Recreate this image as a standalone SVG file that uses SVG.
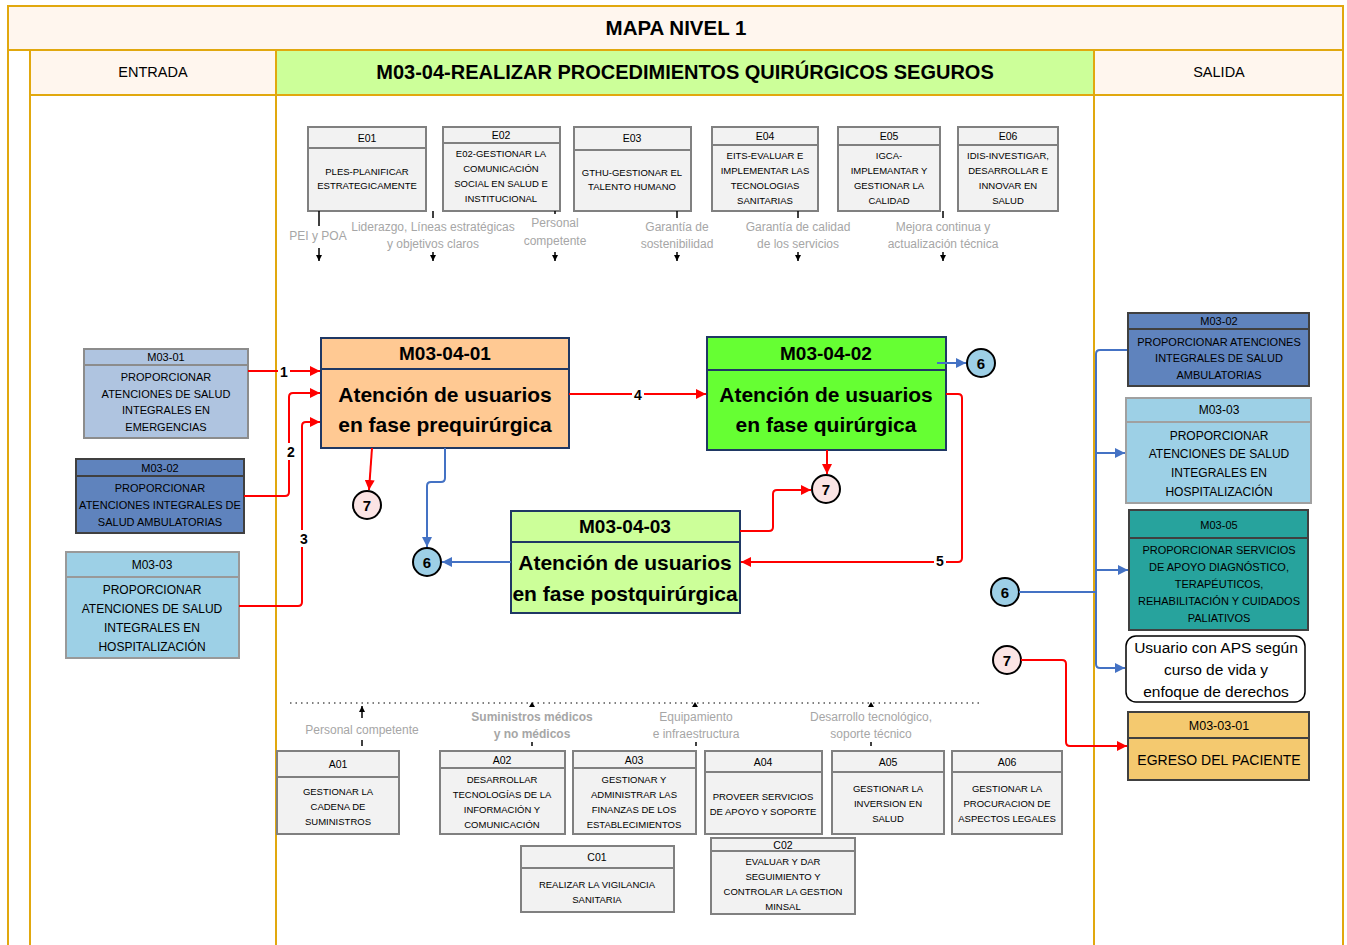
<svg xmlns="http://www.w3.org/2000/svg" width="1347" height="945" viewBox="0 0 1347 945">
<style>
text{font-family:"Liberation Sans",Arial,sans-serif;fill:#000;text-anchor:middle}
.frame{fill:none;stroke:#E1A80E;stroke-width:2}
.gbox{fill:#F2F2F2;stroke:#808080;stroke-width:2}
.gl{stroke:#808080;stroke-width:2}
.sm{font-size:9.5px}
.hd{font-size:10.5px}
.lab{font-size:12px;fill:#A6A6A6}
.labb{font-size:12px;fill:#A6A6A6;font-weight:bold}
.red{fill:none;stroke:#FF0000;stroke-width:2;stroke-linejoin:round}
.blue{fill:none;stroke:#4472C4;stroke-width:2;stroke-linejoin:round}
.num{font-size:14px;font-weight:bold}
.c7{fill:#FBE4E4;stroke:#000;stroke-width:2}
.c6{fill:#9DCFE6;stroke:#000;stroke-width:2}
.cn{font-size:15px;font-weight:bold}
.nodeS{stroke:#1F3864;stroke-width:2}
.nh{font-size:19px;font-weight:bold}
.nb{font-size:21px;font-weight:bold}
.bt{font-size:11px}
.bt12{font-size:12px}
.tick{stroke:#000;stroke-width:1.5}
</style>
<defs>
<marker id="ar" viewBox="0 0 10 10" refX="10" refY="5" markerWidth="5" markerHeight="5" orient="auto"><path d="M0,0 L10,5 L0,10 z" fill="#FF0000"/></marker>
<marker id="ab" viewBox="0 0 10 10" refX="10" refY="5" markerWidth="5" markerHeight="5" orient="auto"><path d="M0,0 L10,5 L0,10 z" fill="#4472C4"/></marker>
<marker id="ak" viewBox="0 0 10 10" refX="10" refY="5" markerWidth="6" markerHeight="6" orient="auto" markerUnits="userSpaceOnUse"><path d="M0,0 L10,5 L0,10 z" fill="#000"/></marker>
</defs>

<!-- frame -->
<g id="frame">
<rect x="8" y="6" width="1335" height="44" fill="#FFF6EE"/>
<rect x="30" y="50" width="246" height="45" fill="#FFF6EE"/>
<rect x="276" y="50" width="818" height="45" fill="#CCFF99"/>
<rect x="1094" y="50" width="249" height="45" fill="#FFF6EE"/>
<rect x="8" y="6" width="1335" height="950" class="frame"/>
<line x1="8" y1="50" x2="1343" y2="50" class="frame"/>
<line x1="30" y1="95" x2="1343" y2="95" class="frame"/>
<line x1="30" y1="50" x2="30" y2="945" class="frame"/>
<line x1="276" y1="50" x2="276" y2="945" class="frame"/>
<line x1="1094" y1="50" x2="1094" y2="945" class="frame"/>
<text x="676" y="35" style="font-size:20.5px;font-weight:bold">MAPA NIVEL 1</text>
<text x="153" y="77" style="font-size:14.5px">ENTRADA</text>
<text x="685" y="79" style="font-size:20px;font-weight:bold">M03-04-REALIZAR PROCEDIMIENTOS QUIRÚRGICOS SEGUROS</text>
<text x="1219" y="77" style="font-size:14.5px">SALIDA</text>
</g>

<!-- E boxes -->
<g id="E01">
<rect x="308" y="127" width="118" height="84" class="gbox"/><line x1="308" y1="148" x2="426" y2="148" class="gl"/>
<text x="367" y="142" class="hd">E01</text>
<text x="367" y="175" class="sm">PLES-PLANIFICAR</text><text x="367" y="189" class="sm">ESTRATEGICAMENTE</text>
</g>
<g id="E02">
<rect x="443" y="127" width="117" height="84" class="gbox"/><line x1="443" y1="143" x2="560" y2="143" class="gl"/>
<text x="501" y="139" class="hd">E02</text>
<text x="501" y="157" class="sm">E02-GESTIONAR LA</text><text x="501" y="172" class="sm">COMUNICACIÓN</text><text x="501" y="187" class="sm">SOCIAL EN SALUD E</text><text x="501" y="202" class="sm">INSTITUCIONAL</text>
</g>
<g id="E03">
<rect x="574" y="127" width="117" height="84" class="gbox"/><line x1="574" y1="150" x2="691" y2="150" class="gl"/>
<text x="632" y="142" class="hd">E03</text>
<text x="632" y="176" class="sm">GTHU-GESTIONAR EL</text><text x="632" y="190" class="sm">TALENTO HUMANO</text>
</g>
<g id="E04">
<rect x="712" y="127" width="106" height="84" class="gbox"/><line x1="712" y1="145" x2="818" y2="145" class="gl"/>
<text x="765" y="140" class="hd">E04</text>
<text x="765" y="159" class="sm">EITS-EVALUAR E</text><text x="765" y="174" class="sm">IMPLEMENTAR LAS</text><text x="765" y="189" class="sm">TECNOLOGIAS</text><text x="765" y="204" class="sm">SANITARIAS</text>
</g>
<g id="E05">
<rect x="838" y="127" width="102" height="84" class="gbox"/><line x1="838" y1="145" x2="940" y2="145" class="gl"/>
<text x="889" y="140" class="hd">E05</text>
<text x="889" y="159" class="sm">IGCA-</text><text x="889" y="174" class="sm">IMPLEMANTAR Y</text><text x="889" y="189" class="sm">GESTIONAR LA</text><text x="889" y="204" class="sm">CALIDAD</text>
</g>
<g id="E06">
<rect x="958" y="127" width="100" height="84" class="gbox"/><line x1="958" y1="145" x2="1058" y2="145" class="gl"/>
<text x="1008" y="140" class="hd">E06</text>
<text x="1008" y="159" class="sm">IDIS-INVESTIGAR,</text><text x="1008" y="174" class="sm">DESARROLLAR E</text><text x="1008" y="189" class="sm">INNOVAR EN</text><text x="1008" y="204" class="sm">SALUD</text>
</g>

<!-- strategic flows -->
<g id="strategic-labels">
<line x1="319" y1="211" x2="319" y2="226" class="tick"/>
<line x1="433" y1="211" x2="433" y2="218" class="tick"/>
<line x1="555" y1="211" x2="555" y2="214" class="tick"/>
<line x1="677" y1="211" x2="677" y2="218" class="tick"/>
<line x1="798" y1="211" x2="798" y2="218" class="tick"/>
<line x1="943" y1="211" x2="943" y2="218" class="tick"/>
<text x="318" y="240" class="lab">PEI y POA</text>
<text x="433" y="231" class="lab">Liderazgo, Líneas estratégicas</text><text x="433" y="248" class="lab">y objetivos claros</text>
<text x="555" y="227" class="lab">Personal</text><text x="555" y="245" class="lab">competente</text>
<text x="677" y="231" class="lab">Garantía de</text><text x="677" y="248" class="lab">sostenibilidad</text>
<text x="798" y="231" class="lab">Garantía de calidad</text><text x="798" y="248" class="lab">de los servicios</text>
<text x="943" y="231" class="lab">Mejora continua y</text><text x="943" y="248" class="lab">actualización técnica</text>
<line x1="319" y1="248" x2="319" y2="261" class="tick" marker-end="url(#ak)"/>
<line x1="433" y1="252" x2="433" y2="261" class="tick" marker-end="url(#ak)"/>
<line x1="555" y1="252" x2="555" y2="261" class="tick" marker-end="url(#ak)"/>
<line x1="677" y1="252" x2="677" y2="261" class="tick" marker-end="url(#ak)"/>
<line x1="798" y1="252" x2="798" y2="261" class="tick" marker-end="url(#ak)"/>
<line x1="943" y1="252" x2="943" y2="261" class="tick" marker-end="url(#ak)"/>
</g>

<!-- left inputs -->
<g id="in-M03-01">
<rect x="84" y="349" width="164" height="89" fill="#AFC4E0" stroke="#8C8C8C" stroke-width="2"/><line x1="84" y1="365" x2="248" y2="365" stroke="#8C8C8C" stroke-width="2"/>
<text x="166" y="361" class="bt">M03-01</text>
<text x="166" y="381" class="bt">PROPORCIONAR</text><text x="166" y="398" class="bt">ATENCIONES DE SALUD</text><text x="166" y="414" class="bt">INTEGRALES EN</text><text x="166" y="431" class="bt">EMERGENCIAS</text>
</g>
<g id="in-M03-02">
<rect x="76" y="459" width="168" height="74" fill="#5F83BD" stroke="#404040" stroke-width="2"/><line x1="76" y1="476" x2="244" y2="476" stroke="#404040" stroke-width="2"/>
<text x="160" y="472" class="bt">M03-02</text>
<text x="160" y="492" class="bt">PROPORCIONAR</text><text x="160" y="509" class="bt">ATENCIONES INTEGRALES DE</text><text x="160" y="526" class="bt">SALUD AMBULATORIAS</text>
</g>
<g id="in-M03-03">
<rect x="66" y="552" width="173" height="106" fill="#9DD0E6" stroke="#999" stroke-width="2"/><line x1="66" y1="577" x2="239" y2="577" stroke="#999" stroke-width="2"/>
<text x="152" y="569" class="bt12">M03-03</text>
<text x="152" y="594" class="bt12">PROPORCIONAR</text><text x="152" y="613" class="bt12">ATENCIONES DE SALUD</text><text x="152" y="632" class="bt12">INTEGRALES EN</text><text x="152" y="651" class="bt12">HOSPITALIZACIÓN</text>
</g>

<!-- main nodes -->
<g id="M03-04-01">
<rect x="321" y="338" width="248" height="110" fill="#FFC993" class="nodeS"/><line x1="321" y1="369" x2="569" y2="369" class="nodeS"/>
<text x="445" y="360" class="nh">M03-04-01</text>
<text x="445" y="402" class="nb">Atención de usuarios</text><text x="445" y="432" class="nb">en fase prequirúrgica</text>
</g>
<g id="M03-04-02">
<rect x="707" y="337" width="239" height="113" fill="#66FF33" class="nodeS"/><line x1="707" y1="370" x2="946" y2="370" class="nodeS"/>
<text x="826" y="360" class="nh">M03-04-02</text>
<text x="826" y="402" class="nb">Atención de usuarios</text><text x="826" y="432" class="nb">en fase quirúrgica</text>
</g>
<g id="M03-04-03">
<rect x="511" y="511" width="229" height="102" fill="#CCFF99" class="nodeS"/><line x1="511" y1="542" x2="740" y2="542" class="nodeS"/>
<text x="625" y="533" class="nh">M03-04-03</text>
<text x="625" y="570" class="nb">Atención de usuarios</text><text x="625" y="601" class="nb">en fase postquirúrgica</text>
</g>

<!-- connector circles -->
<g id="c7a"><circle cx="367" cy="505" r="14" class="c7"/><text x="367" y="511" class="cn">7</text></g>
<g id="c6a"><circle cx="427" cy="562" r="14" class="c6"/><text x="427" y="568" class="cn">6</text></g>
<g id="c7b"><circle cx="826" cy="489" r="14" class="c7"/><text x="826" y="495" class="cn">7</text></g>
<g id="c6b"><circle cx="981" cy="363" r="14" class="c6"/><text x="981" y="369" class="cn">6</text></g>
<g id="c6c"><circle cx="1005" cy="592" r="14" class="c6"/><text x="1005" y="598" class="cn">6</text></g>
<g id="c7c"><circle cx="1007" cy="660" r="14" class="c7"/><text x="1007" y="666" class="cn">7</text></g>

<!-- outputs -->
<g id="out-M03-02">
<rect x="1128" y="313" width="181" height="73" fill="#5F83BD" stroke="#404040" stroke-width="2"/><line x1="1128" y1="329" x2="1309" y2="329" stroke="#404040" stroke-width="2"/>
<text x="1219" y="325" class="bt">M03-02</text>
<text x="1219" y="346" class="bt">PROPORCIONAR ATENCIONES</text><text x="1219" y="362" class="bt">INTEGRALES DE SALUD</text><text x="1219" y="379" class="bt">AMBULATORIAS</text>
</g>
<g id="out-M03-03">
<rect x="1126" y="398" width="185" height="105" fill="#9DD0E6" stroke="#A0A0A0" stroke-width="2"/><line x1="1126" y1="422" x2="1311" y2="422" stroke="#A0A0A0" stroke-width="2"/>
<text x="1219" y="414" class="bt12">M03-03</text>
<text x="1219" y="440" class="bt12">PROPORCIONAR</text><text x="1219" y="458" class="bt12">ATENCIONES DE SALUD</text><text x="1219" y="477" class="bt12">INTEGRALES EN</text><text x="1219" y="496" class="bt12">HOSPITALIZACIÓN</text>
</g>
<g id="out-M03-05">
<rect x="1129" y="510" width="179" height="120" fill="#27A39D" stroke="#404040" stroke-width="2"/><line x1="1129" y1="538" x2="1308" y2="538" stroke="#404040" stroke-width="2"/>
<text x="1219" y="529" class="bt">M03-05</text>
<text x="1219" y="554" class="bt">PROPORCIONAR  SERVICIOS</text><text x="1219" y="571" class="bt">DE APOYO DIAGNÓSTICO,</text><text x="1219" y="588" class="bt">TERAPÉUTICOS,</text><text x="1219" y="605" class="bt">REHABILITACIÓN Y CUIDADOS</text><text x="1219" y="622" class="bt">PALIATIVOS</text>
</g>
<g id="out-usuario">
<rect x="1126" y="636" width="179" height="66" rx="10" fill="#FFF" stroke="#000" stroke-width="1.5"/>
<text x="1216" y="653" style="font-size:15.5px">Usuario con APS según</text><text x="1216" y="675" style="font-size:15.5px">curso de vida y</text><text x="1216" y="697" style="font-size:15.5px">enfoque de derechos</text>
</g>
<g id="out-M03-03-01">
<rect x="1128" y="712" width="181" height="68" fill="#F4C96F" stroke="#404040" stroke-width="2"/><line x1="1128" y1="738" x2="1309" y2="738" stroke="#404040" stroke-width="2"/>
<text x="1219" y="730" style="font-size:12.5px">M03-03-01</text>
<text x="1219" y="765" style="font-size:14px">EGRESO DEL PACIENTE</text>
</g>

<!-- connectors -->
<g id="connectors">
<path d="M248,371 H320" class="red" marker-end="url(#ar)"/>
<path d="M244,496 H285 Q289,496 289,492 V397 Q289,393 293,393 H320" class="red" marker-end="url(#ar)"/>
<path d="M239,606 H298 Q302,606 302,602 V426 Q302,422 306,422 H320" class="red" marker-end="url(#ar)"/>
<rect x="278" y="364" width="12" height="15" fill="#FFF"/><text x="284" y="377" class="num">1</text>
<rect x="285" y="443" width="12" height="17" fill="#FFF"/><text x="291" y="457" class="num">2</text>
<rect x="298" y="530" width="12" height="17" fill="#FFF"/><text x="304" y="544" class="num">3</text>
<path d="M569,394 H706" class="red" marker-end="url(#ar)"/>
<rect x="632" y="387" width="12" height="15" fill="#FFF"/><text x="638" y="400" class="num">4</text>
<path d="M946,394 H958 Q962,394 962,398 V558 Q962,562 958,562 H741" class="red" marker-end="url(#ar)"/>
<rect x="934" y="553" width="12" height="15" fill="#FFF"/><text x="940" y="566" class="num">5</text>
<path d="M372,448 L369,490" class="red" marker-end="url(#ar)"/>
<path d="M827,450 V474" class="red" marker-end="url(#ar)"/>
<path d="M740,531 H769 Q773,531 773,527 V494 Q773,490 777,490 H811" class="red" marker-end="url(#ar)"/>
<path d="M445,448 V478 Q445,482 441,482 H431 Q427,482 427,486 V547" class="blue" marker-end="url(#ab)"/>
<path d="M511,562 H442" class="blue" marker-end="url(#ab)"/>
<path d="M937,363 H966" class="blue" marker-end="url(#ab)"/>
<path d="M1019,592 H1096" class="blue"/>
<path d="M1127,350 H1100 Q1096,350 1096,354 V664 Q1096,668 1100,668 H1125" class="blue" marker-end="url(#ab)"/>
<path d="M1096,453 H1125" class="blue" marker-end="url(#ab)"/>
<path d="M1096,570 H1128" class="blue" marker-end="url(#ab)"/>
<path d="M1021,660 H1062 Q1066,660 1066,664 V742 Q1066,746 1070,746 H1127" class="red" marker-end="url(#ar)"/>
</g>

<!-- support flows -->
<g id="support-labels">
<line x1="290" y1="703" x2="982" y2="703" stroke="#000" stroke-width="1" stroke-dasharray="1.5,4"/>
<line x1="362" y1="718" x2="362" y2="706" class="tick" marker-end="url(#ak)"/>
<path d="M529,707 L532,702 L535,707 z" fill="#000"/>
<path d="M692,707 L695,702 L698,707 z" fill="#000"/>
<path d="M868,707 L871,702 L874,707 z" fill="#000"/>
<text x="362" y="734" class="lab">Personal competente</text>
<text x="532" y="721" class="labb">Suministros médicos</text><text x="532" y="738" class="labb">y no médicos</text>
<text x="696" y="721" class="lab">Equipamiento</text><text x="696" y="738" class="lab">e infraestructura</text>
<text x="871" y="721" class="lab">Desarrollo tecnológico,</text><text x="871" y="738" class="lab">soporte técnico</text>
<line x1="362" y1="740" x2="362" y2="746" class="tick"/>
<line x1="532" y1="742" x2="532" y2="746" class="tick"/>
<line x1="696" y1="742" x2="696" y2="746" class="tick"/>
<line x1="871" y1="742" x2="871" y2="746" class="tick"/>
</g>

<!-- A boxes -->
<g id="A01">
<rect x="277" y="751" width="122" height="83" class="gbox"/><line x1="277" y1="777" x2="399" y2="777" class="gl"/>
<text x="338" y="768" class="hd">A01</text>
<text x="338" y="795" class="sm">GESTIONAR LA</text><text x="338" y="810" class="sm">CADENA DE</text><text x="338" y="825" class="sm">SUMINISTROS</text>
</g>
<g id="A02">
<rect x="440" y="751" width="125" height="83" class="gbox"/><line x1="440" y1="768" x2="565" y2="768" class="gl"/>
<text x="502" y="764" class="hd">A02</text>
<text x="502" y="783" class="sm">DESARROLLAR</text><text x="502" y="798" class="sm">TECNOLOGÍAS DE LA</text><text x="502" y="813" class="sm">INFORMACIÓN Y</text><text x="502" y="828" class="sm">COMUNICACIÓN</text>
</g>
<g id="A03">
<rect x="573" y="751" width="123" height="83" class="gbox"/><line x1="573" y1="768" x2="696" y2="768" class="gl"/>
<text x="634" y="764" class="hd">A03</text>
<text x="634" y="783" class="sm">GESTIONAR Y</text><text x="634" y="798" class="sm">ADMINISTRAR LAS</text><text x="634" y="813" class="sm">FINANZAS DE LOS</text><text x="634" y="828" class="sm">ESTABLECIMIENTOS</text>
</g>
<g id="A04">
<rect x="705" y="751" width="117" height="83" class="gbox"/><line x1="705" y1="772" x2="822" y2="772" class="gl"/>
<text x="763" y="766" class="hd">A04</text>
<text x="763" y="800" class="sm">PROVEER SERVICIOS</text><text x="763" y="815" class="sm">DE APOYO Y SOPORTE</text>
</g>
<g id="A05">
<rect x="832" y="751" width="112" height="83" class="gbox"/><line x1="832" y1="772" x2="944" y2="772" class="gl"/>
<text x="888" y="766" class="hd">A05</text>
<text x="888" y="792" class="sm">GESTIONAR LA</text><text x="888" y="807" class="sm">INVERSION EN</text><text x="888" y="822" class="sm">SALUD</text>
</g>
<g id="A06">
<rect x="952" y="751" width="110" height="83" class="gbox"/><line x1="952" y1="772" x2="1062" y2="772" class="gl"/>
<text x="1007" y="766" class="hd">A06</text>
<text x="1007" y="792" class="sm">GESTIONAR LA</text><text x="1007" y="807" class="sm">PROCURACION DE</text><text x="1007" y="822" class="sm">ASPECTOS LEGALES</text>
</g>
<g id="C01">
<rect x="521" y="846" width="153" height="66" class="gbox"/><line x1="521" y1="868" x2="674" y2="868" class="gl"/>
<text x="597" y="861" class="hd">C01</text>
<text x="597" y="888" class="sm">REALIZAR LA VIGILANCIA</text><text x="597" y="903" class="sm">SANITARIA</text>
</g>
<g id="C02">
<rect x="711" y="838" width="144" height="76" class="gbox"/><line x1="711" y1="851" x2="855" y2="851" class="gl"/>
<text x="783" y="849" class="hd">C02</text>
<text x="783" y="865" class="sm">EVALUAR Y DAR</text><text x="783" y="880" class="sm">SEGUIMIENTO Y</text><text x="783" y="895" class="sm">CONTROLAR LA GESTION</text><text x="783" y="910" class="sm">MINSAL</text>
</g>
</svg>
